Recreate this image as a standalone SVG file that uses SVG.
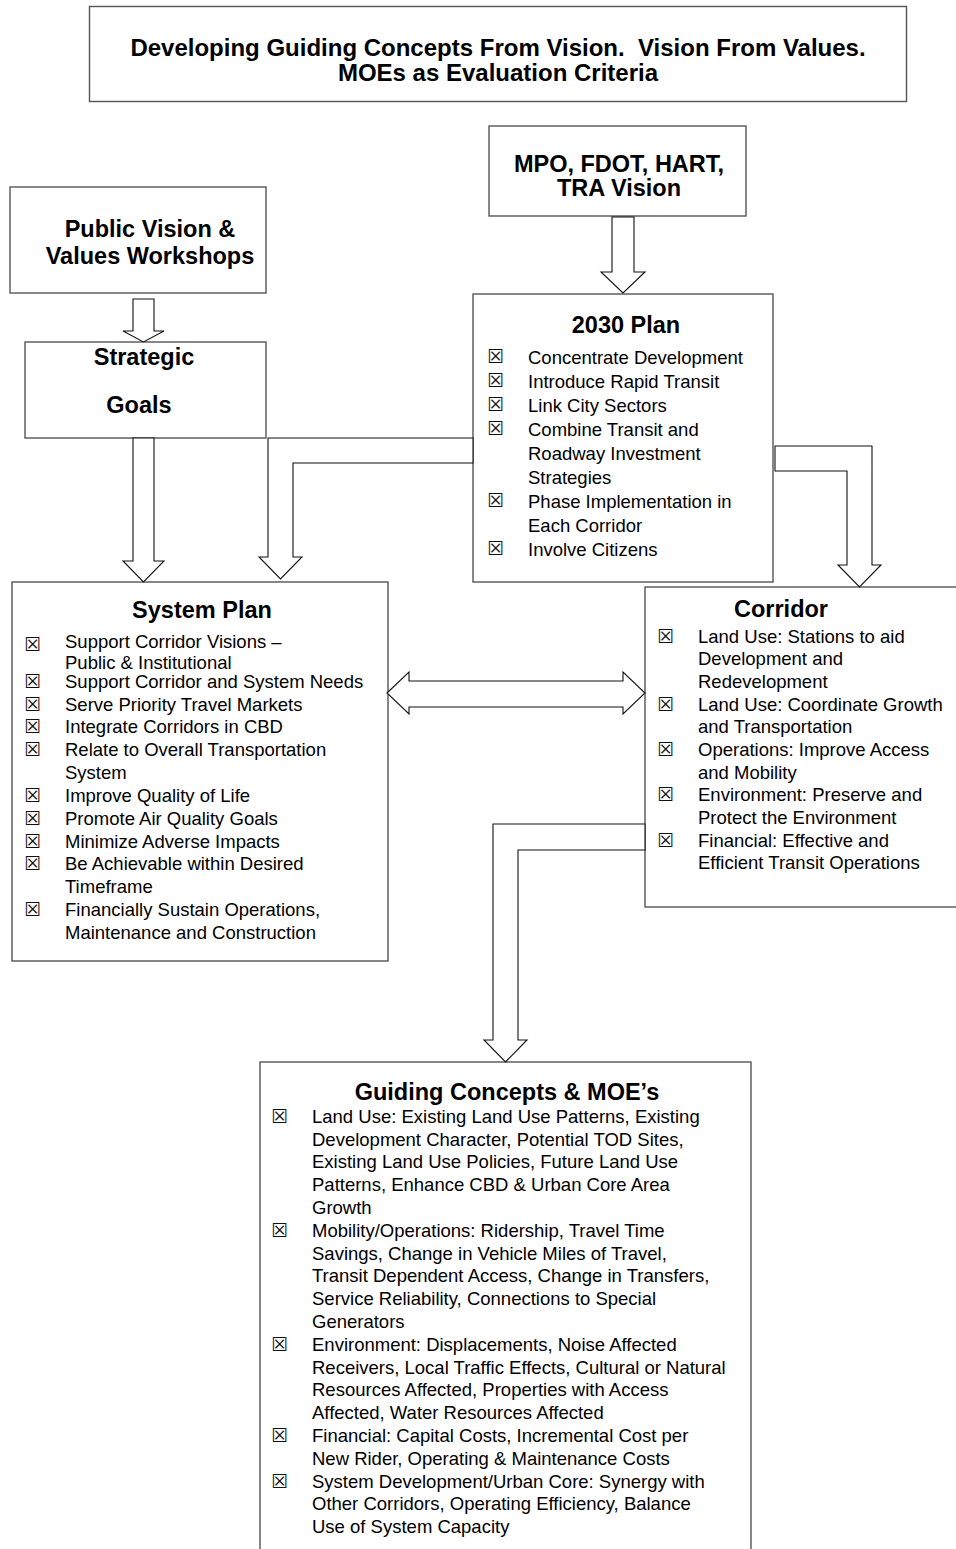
<svg xmlns="http://www.w3.org/2000/svg" width="956" height="1549" viewBox="0 0 956 1549">
<style>
.box{fill:#fff;stroke:#555;stroke-width:1.4}
.arr{fill:#fff;stroke:#111;stroke-width:1.1;stroke-linejoin:miter}
.h{font-family:"Liberation Sans",Arial,sans-serif;font-weight:bold;font-size:23.5px;text-anchor:middle;fill:#000}
.ttl{font-family:"Liberation Sans",Arial,sans-serif;font-weight:bold;font-size:24px;text-anchor:middle;fill:#000;white-space:pre}
.t{font-family:"Liberation Sans",Arial,sans-serif;font-size:18.5px;fill:#000}
.cb{font-family:"DejaVu Sans",sans-serif;font-size:19px;fill:#111}
</style>
<rect width="956" height="1549" fill="#fff"/>

<g id="title">
<rect class="box" x="89.5" y="6.5" width="817" height="95"/>
<text class="ttl" x="498" y="56" xml:space="preserve">Developing Guiding Concepts From Vision.  Vision From Values.</text>
<text class="ttl" x="498" y="81">MOEs as Evaluation Criteria</text>
</g>

<g id="public-vision">
<rect class="box" x="10" y="187" width="256" height="106"/>
<text class="h" x="150" y="237">Public Vision &amp;</text>
<text class="h" x="150" y="264">Values Workshops</text>
</g>

<g id="mpo-vision">
<rect class="box" x="489" y="126" width="257" height="90"/>
<text class="h" x="619" y="172">MPO, FDOT, HART,</text>
<text class="h" x="619" y="196">TRA Vision</text>
</g>

<g id="strategic-goals">
<rect class="box" x="25" y="342" width="241" height="96"/>
<text class="h" x="144" y="365">Strategic</text>
<text class="h" x="139" y="413">Goals</text>
</g>

<g id="plan-2030">
<rect class="box" x="473" y="294" width="300" height="288"/>
<text class="h" x="626" y="333">2030 Plan</text>
<text class="cb" x="487" y="363">☒</text><text class="t" x="528" y="363.5">Concentrate Development</text>
<text class="cb" x="487" y="387">☒</text><text class="t" x="528" y="387.5">Introduce Rapid Transit</text>
<text class="cb" x="487" y="411">☒</text><text class="t" x="528" y="411.5">Link City Sectors</text>
<text class="cb" x="487" y="435">☒</text><text class="t" x="528" y="435.5">Combine Transit and</text>
<text class="t" x="528" y="459.5">Roadway Investment</text>
<text class="t" x="528" y="483.5">Strategies</text>
<text class="cb" x="487" y="507">☒</text><text class="t" x="528" y="507.5">Phase Implementation in</text>
<text class="t" x="528" y="531.5">Each Corridor</text>
<text class="cb" x="487" y="555">☒</text><text class="t" x="528" y="555.5">Involve Citizens</text>
</g>

<g id="system-plan">
<rect class="box" x="12" y="582" width="376" height="379"/>
<text class="h" x="202" y="618">System Plan</text>
<text class="cb" x="24" y="651">☒</text><text class="t" x="65" y="647.5">Support Corridor Visions –</text>
<text class="t" x="65" y="668.5">Public &amp; Institutional</text>
<text class="cb" x="24" y="688">☒</text><text class="t" x="65" y="687.5">Support Corridor and System Needs</text>
<text class="cb" x="24" y="711">☒</text><text class="t" x="65" y="710.5">Serve Priority Travel Markets</text>
<text class="cb" x="24" y="733">☒</text><text class="t" x="65" y="733">Integrate Corridors in CBD</text>
<text class="cb" x="24" y="756">☒</text><text class="t" x="65" y="756">Relate to Overall Transportation</text>
<text class="t" x="65" y="779">System</text>
<text class="cb" x="24" y="802">☒</text><text class="t" x="65" y="802">Improve Quality of Life</text>
<text class="cb" x="24" y="825">☒</text><text class="t" x="65" y="825">Promote Air Quality Goals</text>
<text class="cb" x="24" y="847.5">☒</text><text class="t" x="65" y="847.5">Minimize Adverse Impacts</text>
<text class="cb" x="24" y="870">☒</text><text class="t" x="65" y="870">Be Achievable within Desired</text>
<text class="t" x="65" y="893">Timeframe</text>
<text class="cb" x="24" y="916">☒</text><text class="t" x="65" y="916">Financially Sustain Operations,</text>
<text class="t" x="65" y="938.5">Maintenance and Construction</text>
</g>

<g id="corridor">
<rect class="box" x="645" y="587" width="320" height="320"/>
<text class="h" x="781" y="617">Corridor</text>
<text class="cb" x="657" y="642.5">☒</text><text class="t" x="698" y="642.5">Land Use: Stations to aid</text>
<text class="t" x="698" y="665">Development and</text>
<text class="t" x="698" y="688">Redevelopment</text>
<text class="cb" x="657" y="710.5">☒</text><text class="t" x="698" y="710.5">Land Use: Coordinate Growth</text>
<text class="t" x="698" y="733">and Transportation</text>
<text class="cb" x="657" y="756">☒</text><text class="t" x="698" y="756">Operations: Improve Access</text>
<text class="t" x="698" y="778.5">and Mobility</text>
<text class="cb" x="657" y="801">☒</text><text class="t" x="698" y="801">Environment: Preserve and</text>
<text class="t" x="698" y="824">Protect the Environment</text>
<text class="cb" x="657" y="846.5">☒</text><text class="t" x="698" y="846.5">Financial: Effective and</text>
<text class="t" x="698" y="869">Efficient Transit Operations</text>
</g>

<g id="guiding-concepts">
<rect class="box" x="260" y="1062" width="491" height="495"/>
<text class="h" x="507" y="1100">Guiding Concepts &amp; MOE’s</text>
<text class="cb" x="271" y="1122.8">☒</text><text class="t" x="312" y="1122.8">Land Use: Existing Land Use Patterns, Existing</text>
<text class="t" x="312" y="1145.6">Development Character, Potential TOD Sites,</text>
<text class="t" x="312" y="1168.4">Existing Land Use Policies, Future Land Use</text>
<text class="t" x="312" y="1191.2">Patterns, Enhance CBD &amp; Urban Core Area</text>
<text class="t" x="312" y="1214">Growth</text>
<text class="cb" x="271" y="1236.8">☒</text><text class="t" x="312" y="1236.8">Mobility/Operations: Ridership, Travel Time</text>
<text class="t" x="312" y="1259.6">Savings, Change in Vehicle Miles of Travel,</text>
<text class="t" x="312" y="1282.4">Transit Dependent Access, Change in Transfers,</text>
<text class="t" x="312" y="1305.2">Service Reliability, Connections to Special</text>
<text class="t" x="312" y="1328">Generators</text>
<text class="cb" x="271" y="1350.8">☒</text><text class="t" x="312" y="1350.8">Environment: Displacements, Noise Affected</text>
<text class="t" x="312" y="1373.6">Receivers, Local Traffic Effects, Cultural or Natural</text>
<text class="t" x="312" y="1396.4">Resources Affected, Properties with Access</text>
<text class="t" x="312" y="1419.2">Affected, Water Resources Affected</text>
<text class="cb" x="271" y="1442">☒</text><text class="t" x="312" y="1442">Financial: Capital Costs, Incremental Cost per</text>
<text class="t" x="312" y="1464.8">New Rider, Operating &amp; Maintenance Costs</text>
<text class="cb" x="271" y="1487.6">☒</text><text class="t" x="312" y="1487.6">System Development/Urban Core: Synergy with</text>
<text class="t" x="312" y="1510.4">Other Corridors, Operating Efficiency, Balance</text>
<text class="t" x="312" y="1533.2">Use of System Capacity</text>
</g>

<g id="connectors">
<polygon class="arr" points="133,299 154,299 154,331 164,331 143.5,342 123,331 133,331"/>
<polygon class="arr" points="612,217 634,217 634,272 645,272 623,293 601,272 612,272"/>
<polygon class="arr" points="133,438 154,438 154,561 164,561 143.5,582 123,561 133,561"/>
<polygon class="arr" points="473,438 268,438 268,557 259,557 280.5,579 302,557 293,557 293,463 473,463"/>
<polygon class="arr" points="775,446 872,446 872,565 881,565 859.5,587 838,565 847,565 847,471 775,471"/>
<polygon class="arr" points="387,693 409,672 409,681 623,681 623,672 645,693 623,714 623,707 409,707 409,714"/>
<polygon class="arr" points="645,824 493,824 493,1040 484,1040 505.5,1062 527,1040 518,1040 518,850 645,850"/>
</g>
</svg>
